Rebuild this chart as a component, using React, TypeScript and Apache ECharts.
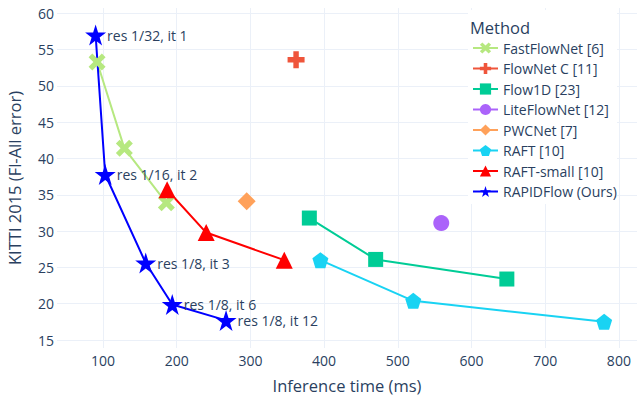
import React, { useEffect, useRef } from "react";
import * as echarts from "echarts";

const xTicks = [100, 200, 300, 400, 500, 600, 700, 800];
const yTicks = [15, 20, 25, 30, 35, 40, 45, 50, 55, 60];

const fastFlowNetX = [92, 129, 186];
const fastFlowNetY = [53.3, 41.4, 33.9];
const flowNetCX = [362];
const flowNetCY = [53.6];
const flow1dX = [380, 470, 648];
const flow1dY = [31.8, 26.1, 23.4];
const liteFlowNetX = [559];
const liteFlowNetY = [31.1];
const pwcNetX = [295];
const pwcNetY = [34.1];
const raftX = [395, 521, 780];
const raftY = [26.0, 20.4, 17.5];
const raftSmallX = [187, 240, 346];
const raftSmallY = [35.7, 29.8, 26.0];
const rapidX = [90, 103, 158, 194, 267];
const rapidY = [57.0, 37.8, 25.6, 19.9, 17.7];
const rapidLabels = ["res 1/32, it 1", "res 1/16, it 2", "res 1/8, it 3", "res 1/8, it 6", "res 1/8, it 12"];

const STAR = "path://M50,0 L61.2,34.5 L97.6,34.5 L68.2,55.9 L79.4,90.5 L50,69.1 L20.6,90.5 L31.8,55.9 L2.4,34.5 L38.8,34.5 Z";
const PLUS = "path://M34,0 H66 V34 H100 V66 H66 V100 H34 V66 H0 V34 H34 Z";
const XSYM = "path://M22,0 L50,28 L78,0 L100,22 L72,50 L100,78 L78,100 L50,72 L22,100 L0,78 L28,50 L0,22 Z";
const PENT = "path://M50,0 L100,36.3 L80.9,95.1 L19.1,95.1 L0,36.3 Z";

const TXT = "#2a3f5f";
const FONT = "Open Sans";

const zip = (xs: number[], ys: number[]) => xs.map((x, i) => [x, ys[i]]);

export default function App() {
  const ref = useRef<HTMLDivElement>(null);
  useEffect(() => {
    if (!ref.current) return;
    const chart = echarts.init(ref.current, null, { renderer: "svg" });
    const mk = (name: string, xs: number[], ys: number[], color: string, symbol: string, size: number, extra: any = {}) => ({
      name,
      type: "line",
      data: zip(xs, ys),
      symbol,
      symbolSize: size,
      showSymbol: true,
      lineStyle: { color, width: 2 },
      itemStyle: { color, opacity: 1 },
      z: 2,
      ...extra,
    });
    chart.setOption({
      animation: false,
      backgroundColor: "#fff",
      textStyle: { fontFamily: FONT, color: TXT },
      grid: { left: 57, right: 2, top: 8, bottom: 48, containLabel: false, outerBoundsMode: "none" },
      xAxis: {
        type: "value",
        min: 37.6,
        max: 824.6,
        name: "Inference time (ms)",
        nameLocation: "middle",
        nameGap: 29,
        nameTextStyle: { fontSize: 16.5, color: TXT, fontFamily: FONT },
        axisLine: { show: false },
        axisTick: { show: false, customValues: xTicks },
        axisLabel: { customValues: xTicks, fontSize: 14, color: TXT, fontFamily: FONT, margin: 5 },
        splitLine: { show: true, lineStyle: { color: "#EBF0F8", width: 1 } },
      },
      yAxis: {
        type: "value",
        min: 13.9,
        max: 60.73,
        name: "KITTI 2015 (Fl-All error)",
        nameLocation: "middle",
        nameGap: 34,
        nameTextStyle: { fontSize: 16.5, color: TXT, fontFamily: FONT },
        axisLine: { show: false },
        axisTick: { show: false, customValues: yTicks },
        axisLabel: { customValues: yTicks, fontSize: 14, color: TXT, fontFamily: FONT, margin: 3 },
        splitLine: { show: true, lineStyle: { color: "#EBF0F8", width: 1 } },
      },
      legend: {
        orient: "vertical",
        left: 472,
        top: 41,
        itemWidth: 25,
        itemHeight: 14,
        itemGap: 6.5,
        padding: 0,
        textStyle: { fontSize: 14, lineHeight: 14, color: TXT, fontFamily: FONT },
        z: 5,
      },
      graphic: [
        { type: "rect", shape: { x: 468, y: 10, width: 149, height: 194 }, style: { fill: "#fff" }, z: 4 },
        { type: "text", x: 470, y: 27, style: { text: "Method", fontSize: 16.5, fill: TXT, fontFamily: FONT, verticalAlign: "middle" }, z: 5 },
      ],
      series: [
        mk("FastFlowNet [6]", fastFlowNetX, fastFlowNetY, "#B6E880", XSYM, 17),
        mk("FlowNet C [11]", flowNetCX, flowNetCY, "#EF553B", PLUS, 17),
        mk("Flow1D [23]", flow1dX, flow1dY, "#00CC96", "rect", 15),
        mk("LiteFlowNet [12]", liteFlowNetX, liteFlowNetY, "#AB63FA", "circle", 16),
        mk("PWCNet [7]", pwcNetX, pwcNetY, "#FFA15A", "diamond", 18),
        mk("RAFT [10]", raftX, raftY, "#19D3F3", PENT, 16),
        mk("RAFT-small [10]", raftSmallX, raftSmallY, "#FF0000", "triangle", 17),
        mk("RAPIDFlow (Ours)", rapidX, rapidY, "#0000FF", STAR, 21, {
          label: {
            show: true,
            position: "right",
            distance: 1,
            fontSize: 14,
            color: TXT,
            fontFamily: FONT,
            formatter: (p: any) => rapidLabels[p.dataIndex],
          },
        }),
      ],
    });
    return () => chart.dispose();
  }, []);
  return <div ref={ref} style={{ position: "absolute", left: 0, top: 0, width: 639, height: 396 }} />;
}
